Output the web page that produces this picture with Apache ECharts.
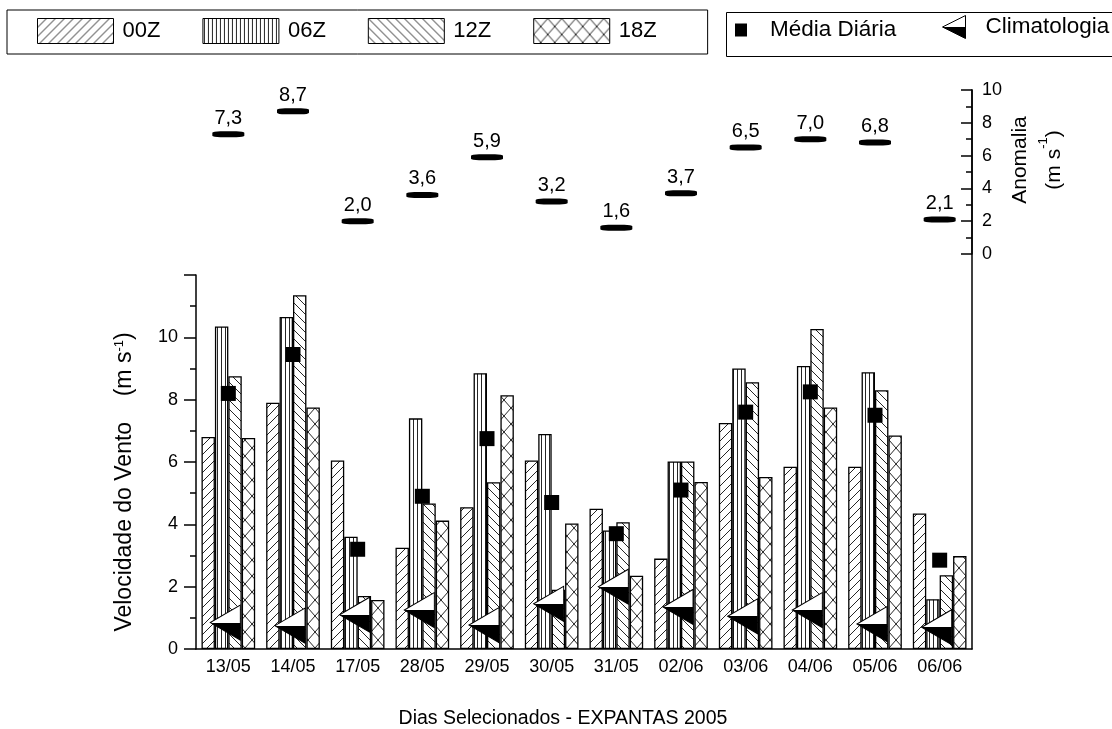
<!DOCTYPE html>
<html><head><meta charset="utf-8">
<script src="https://cdn.jsdelivr.net/npm/echarts@6/dist/echarts.min.js"></script>
<style>html,body{margin:0;padding:0;background:#fff}#c{width:1112px;height:729px}</style>
</head><body><div id="c"></div>
<script>
const categories = ['13/05','14/05','17/05','28/05','29/05','30/05','31/05','02/06','03/06','04/06','05/06','06/06'];
const v00Z = [6.8, 7.9, 6.05, 3.25, 4.55, 6.05, 4.5, 2.9, 7.25, 5.85, 5.85, 4.35];
const v06Z = [10.35, 10.65, 3.6, 7.4, 8.85, 6.9, 3.8, 6.02, 9.0, 9.08, 8.88, 1.6];
const v12Z = [8.75, 11.35, 1.7, 4.67, 5.35, 1.9, 4.07, 6.02, 8.56, 10.27, 8.3, 2.37];
const v18Z = [6.77, 7.75, 1.57, 4.12, 8.14, 4.03, 2.35, 5.36, 5.52, 7.75, 6.85, 2.98];
const mediaDiaria = [8.2, 9.45, 3.2, 4.9, 6.75, 4.7, 3.7, 5.1, 7.6, 8.25, 7.5, 2.85];
const climatologia = [0.85, 0.75, 1.1, 1.25, 0.77, 1.45, 2.0, 1.35, 1.05, 1.25, 0.8, 0.7];
const anomalia = [7.3, 8.7, 2.0, 3.6, 5.9, 3.2, 1.6, 3.7, 6.5, 7.0, 6.8, 2.1];

const FONT = 'Liberation Sans';
const LINE = '#262626';

function makePattern(kind) {
  const c = document.createElement('canvas');
  let w = 9, h = 9;
  if (kind === 'vert') { w = 4; h = 4; }
  if (kind === 'cross') { w = 14; h = 16; }
  c.width = w; c.height = h;
  const g = c.getContext('2d');
  g.fillStyle = '#fff'; g.fillRect(0, 0, w, h);
  g.strokeStyle = LINE; g.lineWidth = 1;
  g.beginPath();
  if (kind === 'slash') {
    g.moveTo(0, h); g.lineTo(w, 0);
    g.moveTo(-1, 1); g.lineTo(1, -1);
    g.moveTo(w - 1, h + 1); g.lineTo(w + 1, h - 1);
  } else if (kind === 'back') {
    g.moveTo(0, 0); g.lineTo(w, h);
    g.moveTo(-1, h - 1); g.lineTo(1, h + 1);
    g.moveTo(w - 1, -1); g.lineTo(w + 1, 1);
  } else if (kind === 'vert') {
    g.moveTo(1.5, 0); g.lineTo(1.5, h);
  } else if (kind === 'cross') {
    g.moveTo(0, 0); g.lineTo(w, h);
    g.moveTo(w, 0); g.lineTo(0, h);
  }
  g.stroke();
  return { image: c, repeat: 'repeat' };
}

const barNames = ['00Z', '06Z', '12Z', '18Z'];
const barData = [v00Z, v06Z, v12Z, v18Z];
const barPatterns = [makePattern('slash'), makePattern('vert'), makePattern('back'), makePattern('cross')];

const triGradient = {
  type: 'linear', x: 0, y: 0, x2: 0, y2: 1,
  colorStops: [
    { offset: 0, color: '#fff' }, { offset: 0.5, color: '#fff' },
    { offset: 0.5, color: '#000' }, { offset: 1, color: '#000' }
  ]
};
const triPath = 'path://M0,10 L20,0 L20,20 Z';

const chart = echarts.init(document.getElementById('c'));

const series = barNames.map((n, i) => ({
  name: n, type: 'bar', xAxisIndex: 0, yAxisIndex: 0,
  data: barData[i], barGap: '0%', barCategoryGap: '17%',
  itemStyle: { color: barPatterns[i], borderColor: '#000', borderWidth: 1.3 },
  emphasis: { disabled: true }
}));
series.push({
  name: 'Média Diária', type: 'scatter', xAxisIndex: 0, yAxisIndex: 0,
  data: mediaDiaria, symbol: 'rect', symbolSize: 15,
  itemStyle: { color: '#000', opacity: 1 }, z: 5, emphasis: { disabled: true }
});
series.push({
  name: 'Climatologia', type: 'scatter', xAxisIndex: 0, yAxisIndex: 0,
  data: climatologia, symbol: triPath, symbolSize: [30, 35], symbolOffset: [-3, 0],
  itemStyle: { color: triGradient, borderColor: '#000', borderWidth: 1, opacity: 1 }, z: 6,
  emphasis: { disabled: true }
});
series.push({
  name: 'Anomalia', type: 'scatter', xAxisIndex: 2, yAxisIndex: 1,
  data: anomalia, symbol: 'roundRect', symbolSize: [32, 6],
  itemStyle: { color: '#000', opacity: 1 }, emphasis: { disabled: true },
  label: {
    show: true, position: 'top', distance: 3, color: '#000',
    fontFamily: FONT, fontSize: 20,
    formatter: p => p.value.toFixed(1).replace('.', ',')
  }
});

chart.setOption({
  animation: false,
  backgroundColor: '#fff',
  textStyle: { fontFamily: FONT, color: '#000' },
  grid: [
    { left: 196, right: 140, top: 275, bottom: 80, outerBoundsMode: 'none', containLabel: false },
    { left: 196, right: 140, top: 90, bottom: 475, outerBoundsMode: 'none', containLabel: false },
    { left: 196, right: 140, top: 90, bottom: 80, outerBoundsMode: 'none', containLabel: false }
  ],
  legend: [
    {
      data: barNames.map(n => ({ name: n, icon: 'rect' })),
      left: 7, top: 10, orient: 'horizontal',
      itemWidth: 76, itemHeight: 25, itemGap: 42,
      padding: [8, 51, 10, 30],
      borderColor: '#000', borderWidth: 1,
      itemStyle: { borderColor: '#000', borderWidth: 1 },
      textStyle: { fontFamily: FONT, fontSize: 22, color: '#000', lineHeight: 26, padding: [0, 0, 0, 4] },
      selectedMode: false
    },
    {
      data: [{ name: 'Média Diária', icon: 'rect' }],
      left: 735, top: 17, padding: 0,
      itemWidth: 12, itemHeight: 13,
      itemStyle: { opacity: 1 },
      textStyle: { fontFamily: FONT, fontSize: 22.5, color: '#000', lineHeight: 26, padding: [0, 0, 0, 18] },
      selectedMode: false
    },
    {
      data: [{ name: 'Climatologia', icon: triPath }],
      left: 942, top: 14, padding: 0,
      itemWidth: 23, itemHeight: 29,
      itemStyle: { borderColor: '#000', borderWidth: 1, opacity: 1 },
      textStyle: { fontFamily: FONT, fontSize: 22.5, color: '#000', lineHeight: 26, padding: [0, 0, 0, 15] },
      selectedMode: false
    }
  ],
  graphic: [
    { type: 'rect', left: 724, top: 10, shape: { x: 0, y: 0, width: 400, height: 44 },
      style: { fill: 'none', stroke: '#000', lineWidth: 1 }, z: -1, silent: true }
  ],
  xAxis: [
    {
      type: 'category', gridIndex: 0, data: categories, position: 'bottom',
      axisLine: { lineStyle: { color: '#000', width: 1.5 } },
      axisTick: { alignWithLabel: true, length: 12, lineStyle: { color: '#000', width: 1.5 } },
      axisLabel: { color: '#000', fontSize: 18, fontFamily: FONT, margin: 9, interval: 0 },
      name: 'Dias Selecionados - EXPANTAS 2005', nameLocation: 'middle', nameGap: 60, nameMoveOverlap: false,
      nameTextStyle: { fontSize: 19.5, fontFamily: FONT, color: '#000', padding: [0, 42, 0, 0] },
      splitLine: { show: false }
    },
    {
      type: 'category', gridIndex: 0, data: categories, position: 'bottom',
      axisLine: { show: false },
      axisTick: { length: 7, lineStyle: { color: '#000', width: 1.5 } },
      axisLabel: { show: false }, splitLine: { show: false }
    },
    {
      type: 'category', gridIndex: 1, data: categories, show: false
    },
    {
      type: 'category', gridIndex: 2, data: categories, show: false
    }
  ],
  yAxis: [
    {
      type: 'value', gridIndex: 0, position: 'left', min: 0, max: 12, interval: 2,
      axisLine: { show: true, lineStyle: { color: '#000', width: 1.5 } },
      axisTick: { show: true, length: 12, lineStyle: { color: '#000', width: 1.5 } },
      minorTick: { show: true, splitNumber: 2, length: 6, lineStyle: { color: '#000', width: 1.5 } },
      axisLabel: { color: '#000', fontSize: 18, fontFamily: FONT, margin: 18,
        formatter: v => (v === 12 ? '' : String(v)) },
      splitLine: { show: false },
      name: 'Velocidade do Vento    (m s{sup|-1})', nameLocation: 'middle', nameGap: 60, nameMoveOverlap: false,
      nameTextStyle: { fontSize: 23, fontFamily: FONT, color: '#000', padding: [0, 40, 0, 0],
        rich: { sup: { fontSize: 13, fontFamily: FONT, color: '#000', verticalAlign: 'top' } } }
    },
    {
      type: 'value', gridIndex: 1, position: 'right', min: 0, max: 10, interval: 2,
      axisLine: { show: true, lineStyle: { color: '#000', width: 1.5 } },
      axisTick: { show: true, inside: true, length: 11, lineStyle: { color: '#000', width: 1.5 } },
      minorTick: { show: true, splitNumber: 2, length: 6, lineStyle: { color: '#000', width: 1.5 } },
      axisLabel: { color: '#000', fontSize: 18, fontFamily: FONT, margin: 10 },
      splitLine: { show: false },
      name: 'Anomalia\n(m s{sup|-1})', nameLocation: 'middle', nameGap: 31, nameMoveOverlap: false,
      nameTextStyle: { fontSize: 21, fontFamily: FONT, color: '#000', lineHeight: 34, padding: [0, 0, 0, 24],
        rich: { sup: { fontSize: 13, fontFamily: FONT, color: '#000', verticalAlign: 'top' } } }
    },
    {
      type: 'value', gridIndex: 2, position: 'right', min: 0, max: 1,
      axisLine: { show: true, lineStyle: { color: '#000', width: 1.5 } },
      axisTick: { show: false }, axisLabel: { show: false }, splitLine: { show: false }
    }
  ],
  series: series
});
</script></body></html>
